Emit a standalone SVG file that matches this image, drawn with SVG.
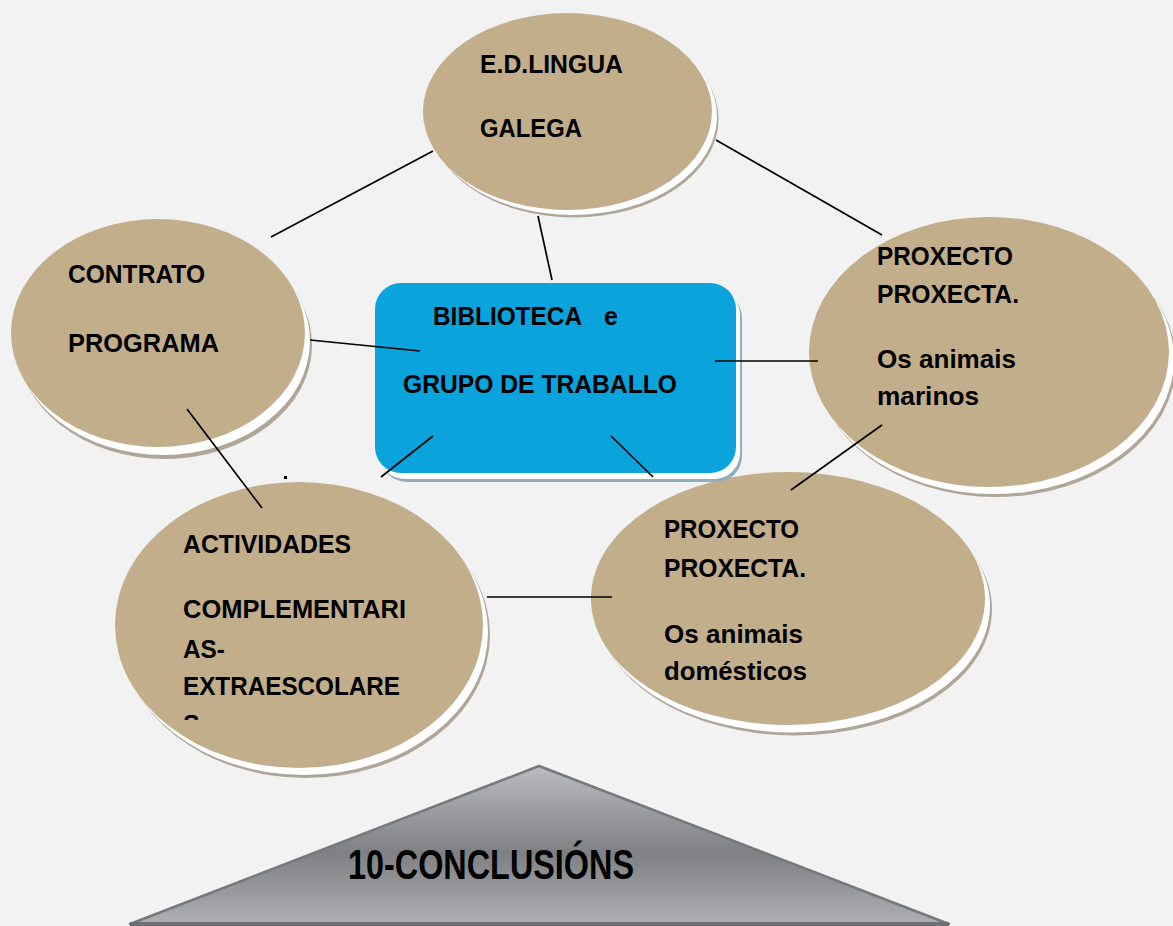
<svg xmlns="http://www.w3.org/2000/svg" width="1173" height="926" viewBox="0 0 1173 926">
<defs>
<style>
.bg{fill:#f2f2f2}
.sh{fill:#aea697}
.rim{fill:#ffffff}
.tan{fill:#c3ae8c}
.t{font-family:"Liberation Sans",Arial,sans-serif;font-weight:bold;font-size:25px;fill:#000}
.big{font-family:"Liberation Sans",Arial,sans-serif;font-weight:bold;font-size:42px;fill:#000}
.ln{stroke:#000;stroke-width:1.7;fill:none}
</style>
<linearGradient id="tri" x1="0" y1="766" x2="0" y2="924" gradientUnits="userSpaceOnUse">
<stop offset="0" stop-color="#babbbe"/>
<stop offset="0.55" stop-color="#7f8084"/>
<stop offset="1" stop-color="#aeafb2"/>
</linearGradient>
<clipPath id="actClip"><rect x="100" y="480" width="400" height="240"/></clipPath>
</defs>
<rect class="bg" x="0" y="0" width="1173" height="926"/>

<g id="node-lingua">
<ellipse class="sh" cx="574" cy="119" rx="144.5" ry="98.5"/>
<ellipse class="rim" cx="572.5" cy="116.5" rx="144.5" ry="98.5"/>
<ellipse class="tan" cx="567.5" cy="111.5" rx="144.5" ry="98.5"/>
<text class="t" x="480" y="73" textLength="143" lengthAdjust="spacingAndGlyphs">E.D.LINGUA</text>
<text class="t" x="480" y="137" textLength="102" lengthAdjust="spacingAndGlyphs">GALEGA</text>
</g>

<g id="node-contrato">
<ellipse class="sh" cx="165" cy="345" rx="147" ry="114"/>
<ellipse class="rim" cx="163" cy="341" rx="147" ry="114"/>
<ellipse class="tan" cx="158" cy="333" rx="147" ry="114"/>
<text class="t" x="68" y="283" textLength="137" lengthAdjust="spacingAndGlyphs">CONTRATO</text>
<text class="t" x="68" y="352" textLength="151" lengthAdjust="spacingAndGlyphs">PROGRAMA</text>
</g>

<g id="node-marinos">
<ellipse class="sh" cx="996" cy="362" rx="180" ry="135"/>
<ellipse class="rim" cx="994" cy="359" rx="180" ry="135"/>
<ellipse class="tan" cx="989" cy="352" rx="180" ry="135"/>
<text class="t" x="877" y="265" textLength="136" lengthAdjust="spacingAndGlyphs">PROXECTO</text>
<text class="t" x="877" y="303" textLength="142" lengthAdjust="spacingAndGlyphs">PROXECTA.</text>
<text class="t" x="877" y="368" textLength="139" lengthAdjust="spacingAndGlyphs">Os animais</text>
<text class="t" x="877" y="405" textLength="102" lengthAdjust="spacingAndGlyphs">marinos</text>
</g>

<g id="node-domesticos">
<ellipse class="sh" cx="795" cy="609" rx="197" ry="126.5"/>
<ellipse class="rim" cx="793" cy="606" rx="197" ry="126.5"/>
<ellipse class="tan" cx="788" cy="598.5" rx="197" ry="126.5"/>
<text class="t" x="664" y="538" textLength="135" lengthAdjust="spacingAndGlyphs">PROXECTO</text>
<text class="t" x="664" y="577" textLength="142" lengthAdjust="spacingAndGlyphs">PROXECTA.</text>
<text class="t" x="664" y="643" textLength="139" lengthAdjust="spacingAndGlyphs">Os animais</text>
<text class="t" x="664" y="680" textLength="143" lengthAdjust="spacingAndGlyphs">domésticos</text>
</g>

<g id="node-actividades">
<ellipse class="sh" cx="306" cy="635" rx="184" ry="143"/>
<ellipse class="rim" cx="304" cy="632" rx="184" ry="143"/>
<ellipse class="tan" cx="299" cy="625" rx="184" ry="143"/>
<g clip-path="url(#actClip)">
<text class="t" x="183" y="553" textLength="168" lengthAdjust="spacingAndGlyphs">ACTIVIDADES</text>
<text class="t" x="183" y="618" textLength="223" lengthAdjust="spacingAndGlyphs">COMPLEMENTARI</text>
<text class="t" x="183" y="658" textLength="42" lengthAdjust="spacingAndGlyphs">AS-</text>
<text class="t" x="183" y="695" textLength="217" lengthAdjust="spacingAndGlyphs">EXTRAESCOLARE</text>
<text class="t" x="183" y="733">S</text>
</g>
</g>

<g id="node-biblioteca">
<rect x="381" y="292" width="361" height="190" rx="26" fill="#93adbf"/>
<rect x="379" y="289" width="361" height="190" rx="26" fill="#ffffff"/>
<rect x="375" y="283" width="361" height="190" rx="26" fill="#0ba3db"/>
<text class="t" x="433" y="325" textLength="149" lengthAdjust="spacingAndGlyphs">BIBLIOTECA</text>
<text class="t" x="604" y="325">e</text>
<text class="t" x="403" y="393" textLength="274" lengthAdjust="spacingAndGlyphs">GRUPO DE TRABALLO</text>
</g>

<g id="node-conclusions">
<polygon points="539,766 130,924 949,924" fill="url(#tri)" stroke="#77787b" stroke-width="2.5" stroke-linejoin="round"/>
<rect x="130" y="922" width="819" height="4" fill="#6e6f72"/>
<text class="big" x="348" y="879" textLength="286" lengthAdjust="spacingAndGlyphs">10-CONCLUSIÓNS</text>
</g>

<rect x="284" y="476" width="3" height="3" fill="#000"/>

<g id="connectors">
<line class="ln" x1="433" y1="151" x2="271" y2="237"/>
<line class="ln" x1="716" y1="140" x2="882" y2="235"/>
<line class="ln" x1="538" y1="216" x2="552" y2="280"/>
<line class="ln" x1="310" y1="340" x2="420" y2="351"/>
<line class="ln" x1="715" y1="361" x2="818" y2="361"/>
<line class="ln" x1="187" y1="409" x2="262" y2="508"/>
<line class="ln" x1="433" y1="436" x2="381" y2="477"/>
<line class="ln" x1="611" y1="436" x2="653" y2="477"/>
<line class="ln" x1="882" y1="425" x2="791" y2="490"/>
<line class="ln" x1="487" y1="597" x2="612" y2="597"/>
</g>
</svg>
